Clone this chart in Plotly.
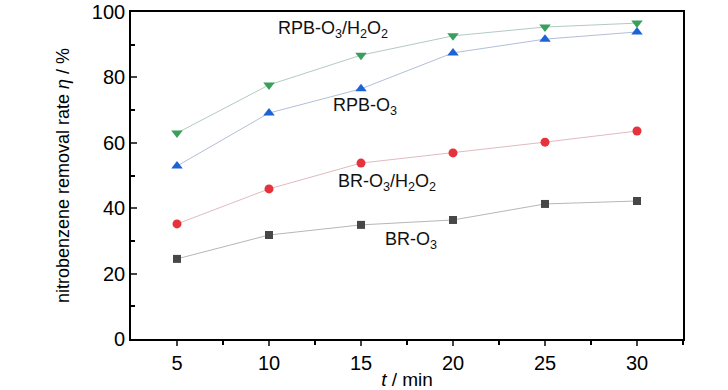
import plotly.graph_objects as go

t_min = [5, 10, 15, 20, 25, 30]
rpb_o3_h2o2 = [63.0, 77.7, 86.8, 92.7, 95.4, 96.6]
rpb_o3 = [52.9, 69.1, 76.5, 87.5, 91.7, 93.9]
br_o3_h2o2 = [35.2, 45.9, 53.8, 56.9, 60.2, 63.6]
br_o3 = [24.5, 31.8, 34.9, 36.4, 41.3, 42.2]

x_ticks = [5, 10, 15, 20, 25, 30]
y_ticks = [0, 20, 40, 60, 80, 100]

FONT = "Liberation Sans Narrow, Arial Narrow, Liberation Sans, Arial, sans-serif"

series = [
    ("RPB-O3/H2O2", rpb_o3_h2o2, "triangle-down", "#3a9e5c", "rgba(160,190,180,0.9)", 10),
    ("RPB-O3", rpb_o3, "triangle-up", "#1e63d6", "rgba(160,175,205,0.9)", 10),
    ("BR-O3/H2O2", br_o3_h2o2, "circle", "#e5323b", "rgba(215,170,175,0.9)", 9),
    ("BR-O3", br_o3, "square", "#474747", "rgba(165,165,165,0.9)", 8),
]

fig = go.Figure()
for name, ys, sym, col, lcol, sz in series:
    fig.add_trace(go.Scatter(
        x=t_min, y=ys, mode="lines+markers", name=name,
        line=dict(color=lcol, width=0.9),
        marker=dict(symbol=sym, color=col, size=sz, line=dict(width=0)),
        showlegend=False,
    ))

labels = [
    (13.5, 94.5, "RPB-O<sub>3</sub>/H<sub>2</sub>O<sub>2</sub>"),
    (15.2, 71.0, "RPB-O<sub>3</sub>"),
    (16.4, 48.0, "BR-O<sub>3</sub>/H<sub>2</sub>O<sub>2</sub>"),
    (17.7, 30.0, "BR-O<sub>3</sub>"),
]
for x, y, txt in labels:
    fig.add_annotation(x=x, y=y, text=txt, showarrow=False,
                       font=dict(family=FONT, size=18, color="#111"))

fig.update_xaxes(
    range=[2.5, 32.5], tickvals=x_ticks, ticks="outside", ticklen=5, tickwidth=1.5,
    showline=True, linecolor="black", linewidth=1.6, mirror=True, showgrid=False,
    zeroline=False, tickfont=dict(family=FONT, size=20, color="black"), automargin=False,
    minor=dict(tickvals=[7.5, 12.5, 17.5, 22.5, 27.5, 32.5], ticks="outside", ticklen=4, tickwidth=1.5, tickcolor="black"),
    title=dict(text="<i>t</i> / min", font=dict(family=FONT, size=19, color="black"), standoff=0),
)
fig.update_yaxes(
    range=[0, 100], tickvals=y_ticks, ticks="inside", ticklen=6, tickwidth=1.5,
    showline=True, linecolor="black", linewidth=1.6, mirror=True, showgrid=False,
    zeroline=False, tickfont=dict(family=FONT, size=20, color="black"), automargin=False,
    minor=dict(tickvals=[10, 30, 50, 70, 90], ticks="inside", ticklen=4, tickwidth=1.5, tickcolor="black"),
    title=dict(text="nitrobenzene removal rate <i>η</i> / %", font=dict(family=FONT, size=18, color="black"), standoff=18),
)
fig.update_layout(
    width=728, height=390, plot_bgcolor="white", paper_bgcolor="white",
    margin=dict(l=131, r=45, t=12, b=51),
)
fig.write_html("out.html", config={"displayModeBar": False})

with open("out.html", "r", encoding="utf-8") as f:
    html = f.read()
html = html.replace("<head>", "<head><style>html,body{margin:0;padding:0;}</style>", 1)
with open("out.html", "w", encoding="utf-8") as f:
    f.write(html)
